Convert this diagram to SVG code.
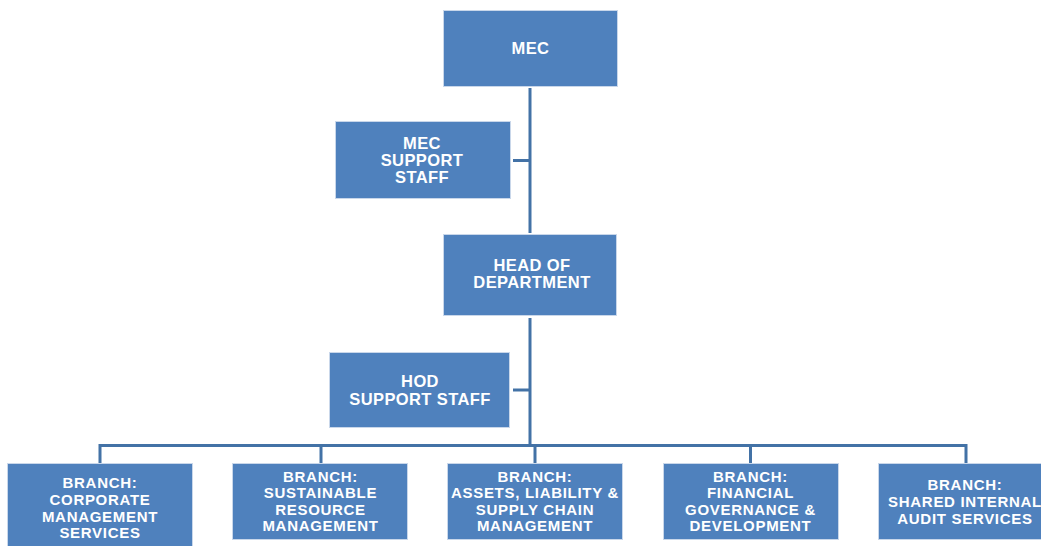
<svg xmlns="http://www.w3.org/2000/svg" width="1041" height="546" viewBox="0 0 1041 546">
  <style>
    .box { fill: #4f81bd; stroke: #c9d7ea; stroke-width: 1; }
    .lbl { font-family: "Liberation Sans", Arial, sans-serif; font-weight: bold; fill: #ffffff; text-anchor: middle; }
    .top { font-size: 16.5px; letter-spacing: 0.4px; }
    .br { font-size: 15px; letter-spacing: 0.7px; }
    .wire { fill: none; stroke: #4372a6; stroke-width: 3; stroke-linecap: butt; }
  </style>
  <rect width="1041" height="546" fill="#ffffff"/>

  <g id="connectors">
    <!-- spine MEC -> HOD -->
    <path class="wire" d="M530 88 V233"/>
    <path class="wire" d="M513 160.5 H530"/>
    <!-- spine HOD -> branch bus -->
    <path class="wire" d="M530 318 V445.5"/>
    <path class="wire" d="M513 390 H530"/>
    <!-- branch bus and drops -->
    <path class="wire" d="M100 463 V445.5 H966 V463"/>
    <path class="wire" d="M321 445.5 V463"/>
    <path class="wire" d="M535 445.5 V463"/>
    <path class="wire" d="M750.5 445.5 V463"/>
  </g>

  <g id="mec">
    <rect class="box" x="443.5" y="10.5" width="174" height="76"/>
    <text class="lbl top" x="530.5" y="53.5">MEC</text>
  </g>

  <g id="mec-support">
    <rect class="box" x="335.5" y="121.5" width="175" height="77"/>
    <text class="lbl top" x="422" y="148.5">MEC</text>
    <text class="lbl top" x="422" y="165.5">SUPPORT</text>
    <text class="lbl top" x="422" y="182.5">STAFF</text>
  </g>

  <g id="hod">
    <rect class="box" x="443.5" y="234.5" width="173" height="81"/>
    <text class="lbl top" x="532" y="271">HEAD OF</text>
    <text class="lbl top" x="532" y="288">DEPARTMENT</text>
  </g>

  <g id="hod-support">
    <rect class="box" x="329.5" y="352.5" width="180" height="75"/>
    <text class="lbl top" x="420" y="387">HOD</text>
    <text class="lbl top" x="420" y="404.5">SUPPORT STAFF</text>
  </g>

  <g id="branch-corporate">
    <rect class="box" x="7.5" y="463.5" width="185" height="95"/>
    <text class="lbl br" x="100" y="487.5">BRANCH:</text>
    <text class="lbl br" x="100" y="505">CORPORATE</text>
    <text class="lbl br" x="100" y="521.5">MANAGEMENT</text>
    <text class="lbl br" x="100" y="537.5">SERVICES</text>
  </g>

  <g id="branch-sustainable">
    <rect class="box" x="232.5" y="463.5" width="175" height="76"/>
    <text class="lbl br" x="320.5" y="481.5">BRANCH:</text>
    <text class="lbl br" x="320.5" y="498">SUSTAINABLE</text>
    <text class="lbl br" x="320.5" y="514.5">RESOURCE</text>
    <text class="lbl br" x="320.5" y="531">MANAGEMENT</text>
  </g>

  <g id="branch-assets">
    <rect class="box" x="447.5" y="463.5" width="175" height="76"/>
    <text class="lbl br" x="535" y="481.5">BRANCH:</text>
    <text class="lbl br" x="535" y="498">ASSETS, LIABILITY &amp;</text>
    <text class="lbl br" x="535" y="514.5">SUPPLY CHAIN</text>
    <text class="lbl br" x="535" y="531">MANAGEMENT</text>
  </g>

  <g id="branch-financial">
    <rect class="box" x="663.5" y="463.5" width="175" height="76"/>
    <text class="lbl br" x="750.5" y="481.5">BRANCH:</text>
    <text class="lbl br" x="750.5" y="498">FINANCIAL</text>
    <text class="lbl br" x="750.5" y="514.5">GOVERNANCE &amp;</text>
    <text class="lbl br" x="750.5" y="531">DEVELOPMENT</text>
  </g>

  <g id="branch-audit">
    <rect class="box" x="878.5" y="463.5" width="175" height="76"/>
    <text class="lbl br" x="965" y="489.5">BRANCH:</text>
    <text class="lbl br" x="965" y="506.5">SHARED INTERNAL</text>
    <text class="lbl br" x="965" y="523.5">AUDIT SERVICES</text>
  </g>
</svg>
